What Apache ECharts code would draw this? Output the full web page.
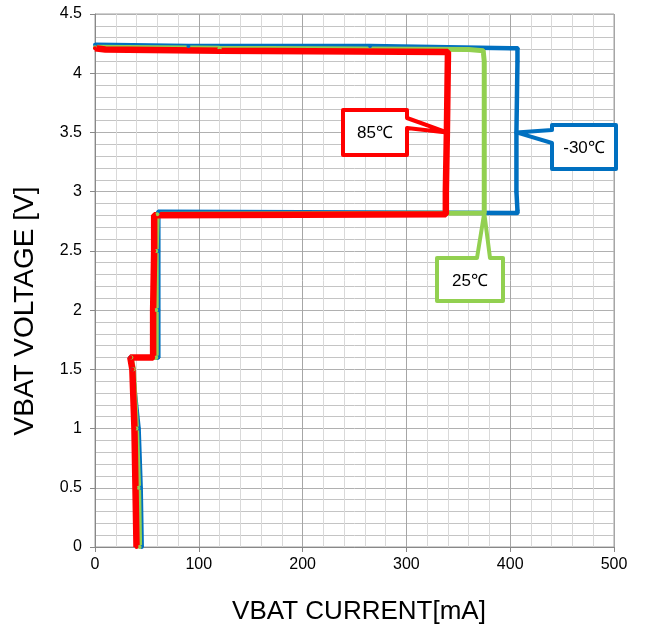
<!DOCTYPE html>
<html><head><meta charset="utf-8">
<script src="https://cdn.jsdelivr.net/npm/echarts@6/dist/echarts.min.js"></script>
<style>html,body{margin:0;padding:0;background:#fff}#c{width:651px;height:632px}</style>
</head><body><div id="c"></div>
<script>
const xTicks = [0,100,200,300,400,500];
const yTicks = [0,0.5,1,1.5,2,2.5,3,3.5,4,4.5];
const xTitle = 'VBAT CURRENT[mA]';
const yTitle = 'VBAT VOLTAGE [V]';
const seriesNames = ['-30℃','25℃','85℃'];
const blueData = [[0,4.24],[90,4.23],[265,4.23],[400,4.21],[407,4.21],[407,4.1],[406,3.5],[406,3.0],[407,2.84],[407,2.82],[61,2.83],[61,2.5],[61,2.0],[61,1.6],[34,1.6],[36,1.5],[42,1.0],[44,0.5],[45,0]];
const greenData = [[0,4.22],[120,4.21],[360,4.2],[374,4.19],[375,4.1],[375,3.5],[375,3.0],[375,2.82],[60,2.81],[59,2.5],[59,2.0],[59,1.6],[35,1.6],[37,1.5],[40,1.0],[42,0.5],[43,0]];
const redData = [[0,4.21],[10,4.2],[120,4.19],[340,4.18],[340,4.15],[339,3.5],[338,3.0],[338,2.81],[57,2.8],[57,2.5],[56,2.0],[56,1.6],[34,1.6],[36,1.5],[38,1.0],[39,0.5],[40,0]];
const calloutAnchors = {blue: blueData[6], green: greenData[7], red: redData[5]};

const chart = echarts.init(document.getElementById('c'));
const font = 'Liberation Sans, Arial, sans-serif';
chart.setOption({
  animation:false,
  grid:{left:95,right:37,top:14,bottom:85,show:true,borderColor:'#a0a0a0',borderWidth:1},
  xAxis:{type:'value',min:0,max:500,interval:100,
    axisLine:{show:true,lineStyle:{color:'#888'}},
    axisTick:{show:true,length:5,lineStyle:{color:'#888'}},
    axisLabel:{fontFamily:font,fontSize:16,color:'#000',margin:10,formatter:v=>xTicks.includes(v)?String(v):''},
    splitLine:{show:true,lineStyle:{color:'#a6a6a6',width:1}},
    minorTick:{show:false,splitNumber:5},
    minorSplitLine:{show:true,lineStyle:{color:'#d9d9d9',width:1}}
  },
  yAxis:{type:'value',min:0,max:4.5,interval:0.5,
    axisLine:{show:true,lineStyle:{color:'#888'}},
    axisTick:{show:true,length:5,lineStyle:{color:'#888'}},
    axisLabel:{fontFamily:font,fontSize:16,color:'#000',margin:13,formatter:v=>yTicks.includes(v)?String(v):''},
    splitLine:{show:true,lineStyle:{color:'#b0b0b0',width:1}},
    minorTick:{show:false,splitNumber:5},
    minorSplitLine:{show:true,lineStyle:{color:'#c4c4c4',width:1}}
  },
  series:[
    {name:seriesNames[0],type:'line',data:blueData,symbol:'circle',symbolSize:4,showSymbol:true,
      lineStyle:{color:'#0070c0',width:4.5},itemStyle:{color:'#0070c0'}},
    {name:seriesNames[1],type:'line',data:greenData,symbol:'circle',symbolSize:4,showSymbol:true,
      lineStyle:{color:'#92d050',width:5},itemStyle:{color:'#92d050'}},
    {name:seriesNames[2],type:'line',data:redData,symbol:'circle',symbolSize:4,showSymbol:true,
      lineStyle:{color:'#ff0000',width:6.5},itemStyle:{color:'#ff0000'}}
  ]
});

function px(p){return chart.convertToPixel({gridIndex:0},p);}
const rA = px(calloutAnchors.red), bA = px(calloutAnchors.blue), gA = px(calloutAnchors.green);
function callout(points,color,text,tx,ty){
  return [
    {type:'polygon',shape:{points:points},style:{fill:'#fff',stroke:color,lineWidth:4,lineJoin:'round'},z:100},
    {type:'text',x:tx,y:ty,style:{text:text,font:'17px '+font,fill:'#000',textAlign:'center',textVerticalAlign:'middle'},z:101}
  ];
}
const g = [];
g.push(...callout([[343,110],[407,110],[407,118],rA,[407,128],[407,155],[343,155]],'#ff0000','85℃',375,133));
g.push(...callout([[552,125],[616,125],[616,169],[552,169],[552,143],bA,[552,130]],'#0070c0','-30℃',584,148));
g.push(...callout([[437,258],[477,258],gA,[490,258],[503,258],[503,301],[437,301]],'#92d050','25℃',470,281));
g.push({type:'text',x:359,y:612,style:{text:xTitle,font:'26px '+font,fill:'#000',textAlign:'center',textVerticalAlign:'middle'}});
g.push({type:'text',x:25,y:311,rotation:Math.PI/2,style:{text:yTitle,font:'28px '+font,fill:'#000',textAlign:'center',textVerticalAlign:'middle'}});
chart.setOption({graphic:g});
</script></body></html>
